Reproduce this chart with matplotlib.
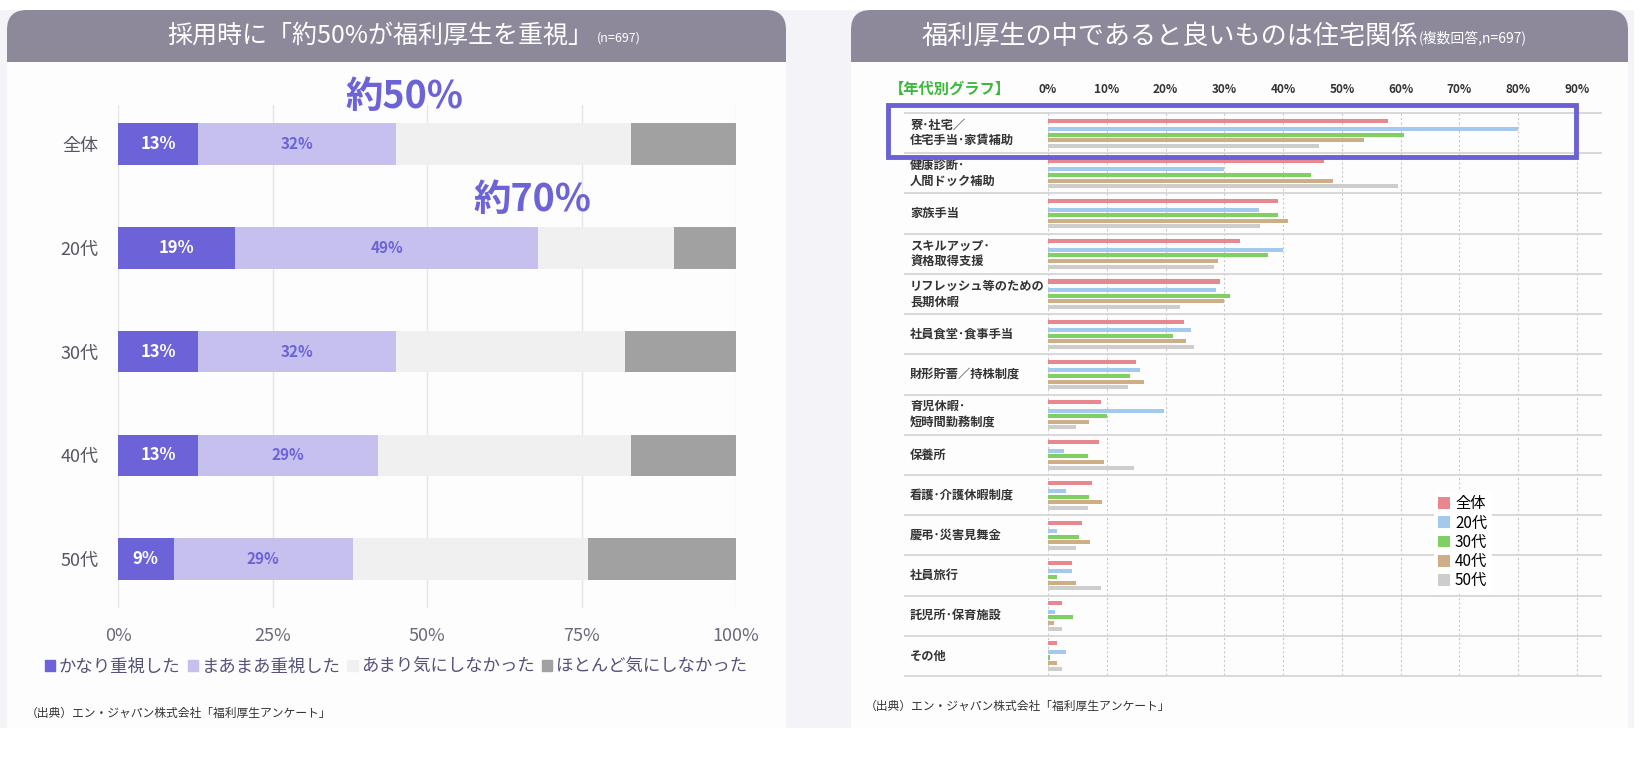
import matplotlib
matplotlib.use('Agg')
import matplotlib.pyplot as plt
from matplotlib.patches import Rectangle, FancyBboxPatch, Patch

plt.rcParams['font.family'] = ['Noto Sans CJK JP', 'DejaVu Sans']

# ---- left chart data: 採用時に福利厚生を重視したか
ages = ['全体', '20代', '30代', '40代', '50代']
levels = ['かなり重視した', 'まあまあ重視した', 'あまり気にしなかった', 'ほとんど気にしなかった']
very = [13, 19, 13, 13, 9]
somewhat = [32, 49, 32, 29, 29]
not_much = [38, 22, 37, 41, 38]
not_at_all = [17, 10, 18, 17, 24]

# ---- right chart data: あると良い福利厚生 (複数回答)
items = ['寮･社宅／\n住宅手当･家賃補助', '健康診断･\n人間ドック補助', '家族手当',
         'スキルアップ･\n資格取得支援', 'リフレッシュ等のための\n長期休暇', '社員食堂･食事手当',
         '財形貯蓄／持株制度', '育児休暇･\n短時間勤務制度', '保養所', '看護･介護休暇制度',
         '慶弔･災害見舞金', '社員旅行', '託児所･保育施設', 'その他']
groups = ['全体', '20代', '30代', '40代', '50代']
all_ages = [57.8, 47.0, 39.1, 32.7, 29.3, 23.1, 15.0, 9.0, 8.6, 7.5, 5.8, 4.1, 2.4, 1.5]
age20 = [80.0, 30.0, 35.9, 40.0, 28.6, 24.4, 15.7, 19.8, 2.7, 3.0, 1.5, 4.1, 1.2, 3.0]
age30 = [60.5, 44.8, 39.1, 37.4, 30.9, 21.3, 14.0, 10.1, 6.8, 7.0, 5.3, 1.5, 4.3, 0.4]
age40 = [53.7, 48.5, 40.9, 29.0, 30.0, 23.4, 16.3, 7.0, 9.6, 9.2, 7.2, 4.7, 1.0, 1.5]
age50 = [46.1, 59.6, 36.0, 28.3, 22.4, 24.8, 13.6, 4.7, 14.6, 6.8, 4.7, 9.0, 2.4, 2.4]

W, H = 1644, 778
PURPLE = '#6c63d9'
HEADER = '#8d899b'

fig = plt.figure(figsize=(W / 100, H / 100), dpi=100)
fig.patch.set_facecolor('white')


def fx(px):
    return px / W


def fy(py):
    return 1 - py / H


def box(x0, y0, x1, y1, zorder=-5, **kw):
    fig.patches.append(Rectangle((fx(x0), fy(y1)), (x1 - x0) / W, (y1 - y0) / H,
                                 transform=fig.transFigure, zorder=zorder, **kw))


def panel(x0, x1):
    box(x0, 62, x1, 728, facecolor='#fdfdfe', edgecolor='none')
    fig.patches.append(FancyBboxPatch((fx(x0), fy(62)), (x1 - x0) / W, 52 / H,
                                      boxstyle='round,pad=0,rounding_size=0.012',
                                      mutation_aspect=W / H,
                                      transform=fig.transFigure, facecolor=HEADER,
                                      edgecolor='none', zorder=-5))
    box(x0, 40, x1, 62, facecolor=HEADER, edgecolor='none')


# page background + two panels
box(0, 10, 1634, 728, facecolor='#f3f3f8', edgecolor='none', zorder=-6)
panel(7, 786)
panel(851, 1628)

fig.text(fx(593), fy(36), '採用時に「約50%が福利厚生を重視」', color='white', fontsize=18,
         ha='right', va='center')
fig.text(fx(597), fy(38), '(n=697)', color='white', fontsize=9, ha='left', va='center')
fig.text(fx(1418), fy(36), '福利厚生の中であると良いものは住宅関係', color='white', fontsize=18.8,
         ha='right', va='center')
fig.text(fx(1419), fy(39), '(複数回答,n=697)', color='white', fontsize=10, ha='left', va='center')

# ---------------- left: stacked bars
ax = fig.add_axes([fx(118), fy(608), (736 - 118) / W, (608 - 105) / H])
ax.set_facecolor('none')
ypos = list(range(len(ages)))
seg_colors = [PURPLE, '#c5c0ee', '#f0f0f0', '#a1a1a1']
left = [0] * len(ages)
for vals, col, lab in zip([very, somewhat, not_much, not_at_all], seg_colors, levels):
    ax.barh(ypos, vals, left=left, height=0.4, color=col, label=lab, zorder=2)
    left = [l + v for l, v in zip(left, vals)]
for i in ypos:
    ax.text(very[i] / 2, i, f'{very[i]}%', color='white', fontsize=12, fontweight='bold',
            ha='center', va='center', zorder=3)
    ax.text(very[i] + somewhat[i] / 2, i, f'{somewhat[i]}%', color=PURPLE, fontsize=11,
            fontweight='bold', ha='center', va='center', zorder=3)
ax.text(46.3, -0.46, '約50%', color=PURPLE, fontsize=27, fontweight='bold',
        ha='center', va='center', clip_on=False)
ax.text(67.1, 0.53, '約70%', color=PURPLE, fontsize=27, fontweight='bold',
        ha='center', va='center')
ax.set_xlim(0, 100)
ax.set_ylim(4.47, -0.376)
ax.set_xticks([0, 25, 50, 75, 100])
ax.set_xticklabels(['0%', '25%', '50%', '75%', '100%'])
ax.set_yticks(ypos)
ax.set_yticklabels(ages)
ax.tick_params(axis='x', length=0, pad=14, labelsize=13, labelcolor='#6a6a7a')
ax.tick_params(axis='y', length=0, pad=14, labelsize=13, labelcolor='#555566')
ax.grid(axis='x', color='#e4e4ea', lw=1, zorder=0)
for s in ax.spines.values():
    s.set_visible(False)

handles = [Patch(color=c) for c in seg_colors]
fig.legend(handles, levels, loc='center', bbox_to_anchor=(fx(396), fy(667)), ncol=4,
           frameon=False, fontsize=12.5, handlelength=0.6, handleheight=0.6,
           handletextpad=0.2, columnspacing=0.4, labelcolor='#55527a')
fig.text(fx(26), fy(713), '（出典）エン・ジャパン株式会社「福利厚生アンケート」', fontsize=8.5,
         color='#333333', va='center')

# ---------------- right: grouped horizontal bars
x_zero, x_ninety, x_end = 1048, 1577, 1602
ax2 = fig.add_axes([fx(x_zero), fy(676), (x_end - x_zero) / W, (676 - 113) / H])
ax2.set_facecolor('none')
px_per_pct = (x_ninety - x_zero) / 90
ax2.set_xlim(0, (x_end - x_zero) / px_per_pct)
ax2.set_ylim(len(items), 0)
bar_colors = ['#e8878d', '#a4c9ef', '#7fcf63', '#ceae87', '#cdcdcd']
offsets = [0.19, 0.40, 0.54, 0.68, 0.82]
series = [all_ages, age20, age30, age40, age50]
for vals, col, off, g in zip(series, bar_colors, offsets, groups):
    ax2.barh([i + off for i in range(len(items))], vals, height=0.1, color=col,
             label=g, zorder=2)
ticks = list(range(0, 100, 10))
ax2.vlines(ticks, 0, len(items), colors='#c8c8c8', linestyles=(0, (2, 2)), lw=0.8, zorder=1)
xa = (904 - x_zero) / (x_end - x_zero)
ax2.hlines(range(len(items) + 1), xa, 1.0, transform=ax2.get_yaxis_transform(),
           colors='#d6d6d6', lw=1.3, clip_on=False, zorder=1)
for i, name in enumerate(items):
    ax2.text(xa + 0.011, i + 0.5, name, transform=ax2.get_yaxis_transform(), fontsize=8.8,
             color='#333333', fontweight='bold', ha='left', va='center', linespacing=1.25)
ax2.xaxis.tick_top()
ax2.set_xticks(ticks)
ax2.set_xticklabels([f'{t}%' for t in ticks])
ax2.tick_params(axis='x', length=0, pad=12, labelsize=8.5, labelcolor='#333333')
for lab in ax2.get_xticklabels():
    lab.set_fontweight('bold')
ax2.set_yticks([])
for s in ax2.spines.values():
    s.set_visible(False)
ax2.legend(loc='upper left', bbox_to_anchor=(fx(1426), fy(483)),
           bbox_transform=fig.transFigure, frameon=True, facecolor='white',
           edgecolor='none', framealpha=1, fontsize=11, handlelength=0.8,
           handleheight=0.8, handletextpad=0.3, labelspacing=0.15, borderpad=0.3)

fig.text(fx(889), fy(89), '【年代別グラフ】', color='#3cb83c', fontsize=11,
         fontweight='bold', va='center')
box(888, 105, 1576, 157, fill=False, edgecolor='#6a62d4', lw=3.5, zorder=5)
fig.text(fx(865), fy(706), '（出典）エン・ジャパン株式会社「福利厚生アンケート」', fontsize=8.5,
         color='#333333', va='center')

fig.savefig('out.png', dpi=100)
